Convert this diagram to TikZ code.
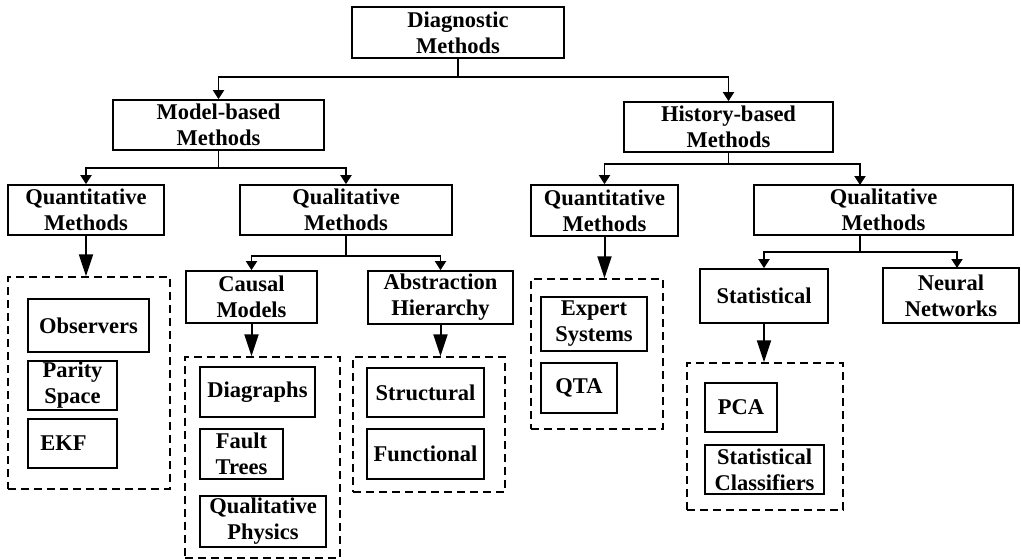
\documentclass[tikz,border=0pt]{standalone}
\usepackage{fontspec}
\setmainfont{Liberation Serif}
\usetikzlibrary{arrows.meta}
\tikzset{
  box/.style={draw, line width=1.7pt, font=\fontsize{22.5}{26}\selectfont\bfseries, align=center, inner sep=1pt},
  grp/.style={draw, line width=1.4pt, dash pattern=on 8pt off 5pt},
  tree/.style={line width=1.9pt, -{Triangle[length=9pt,width=11pt]}},
  bigarr/.style={line width=2pt, -{Triangle[length=22pt,width=14pt]}}
}
\begin{document}
\begin{tikzpicture}[x=1pt,y=-1pt]
\useasboundingbox (0,0) rectangle (1021,560);
% level 1-2
\node[box, minimum width=212pt, minimum height=51pt] (diag) at (458,32.5) {Diagnostic\\Methods};
\node[box, minimum width=211pt, minimum height=50pt] (model) at (218.5,125) {Model-based\\Methods};
\node[box, minimum width=209pt, minimum height=50pt] (hist) at (728.5,127) {History-based\\Methods};
% level 3
\node[box, minimum width=156pt, minimum height=50pt] (quantL) at (86,210) {Quantitative\\Methods};
\node[box, minimum width=212pt, minimum height=50pt] (qualL) at (346,210) {Qualitative\\Methods};
\node[box, minimum width=147pt, minimum height=51pt] (quantR) at (604.5,210.5) {Quantitative\\Methods};
\node[box, minimum width=259pt, minimum height=50pt] (qualR) at (883.5,210) {Qualitative\\Methods};
% level 4
\node[box, minimum width=131pt, minimum height=52pt] (causal) at (251.5,297) {Causal\\Models};
\node[box, minimum width=145pt, minimum height=53pt] (abst) at (440.5,297.5) {Abstraction\\Hierarchy};
\node[box, minimum width=128pt, minimum height=54pt] (stat) at (764,296) {Statistical};
\node[box, minimum width=136pt, minimum height=55pt] (neural) at (951,295.5) {Neural\\Networks};
% dashed groups
\node[grp, minimum width=162pt, minimum height=212pt] (g1) at (89,383) {};
\node[grp, minimum width=155pt, minimum height=201pt] (g2) at (262.5,457.5) {};
\node[grp, minimum width=152pt, minimum height=135pt] (g3) at (429,424.5) {};
\node[grp, minimum width=132pt, minimum height=150pt] (g4) at (597,354) {};
\node[grp, minimum width=156pt, minimum height=147pt] (g5) at (765,436.5) {};
% leaves
\node[box, minimum width=121pt, minimum height=53pt] (obs) at (88.5,325.5) {Observers};
\node[box, minimum width=89pt, minimum height=49pt] (parity) at (72.5,385.5) {Parity\\Space};
\node[box, minimum width=89pt, minimum height=49pt] (ekf) at (72.5,443.5) {EKF\hspace*{18pt}};
\node[box, minimum width=115pt, minimum height=50pt] (digr) at (257.5,392) {Diagraphs};
\node[box, minimum width=83pt, minimum height=50pt] (fault) at (241.5,454) {Fault\\Trees};
\node[box, minimum width=126pt, minimum height=51pt] (qphys) at (263,521.5) {Qualitative\\Physics};
\node[box, minimum width=117pt, minimum height=49pt] (struct) at (425.5,392.5) {Structural};
\node[box, minimum width=117pt, minimum height=50pt] (func) at (425.5,454) {Functional};
\node[box, minimum width=106pt, minimum height=54pt] (expert) at (594,324) {Expert\\Systems};
\node[box, minimum width=76pt, minimum height=50pt] (qta) at (579,388) {QTA};
\node[box, minimum width=72pt, minimum height=49pt] (pca) at (741,407.5) {PCA};
\node[box, minimum width=119pt, minimum height=49pt] (statcl) at (764.5,469.5) {Statistical\\Classifiers};
% junctions
\coordinate (j1) at (458,77);
\coordinate (j2) at (218.5,168);
\coordinate (j3) at (728.5,164);
\coordinate (j4) at (346,256);
\coordinate (j5) at (860,252);
\coordinate (qrin) at (860,185);
\coordinate (nnin) at (957,268);
% tree connectors
\draw[tree] (diag.south) -- (j1) -| (model.north);
\draw[tree] (diag.south) -- (j1) -| (hist.north);
\draw[tree] (model.south) -- (j2) -| (quantL.north);
\draw[tree] (model.south) -- (j2) -| (qualL.north);
\draw[tree] (hist.south) -- (j3) -| (quantR.north);
\draw[tree] (hist.south) -- (j3) -| (qrin);
\draw[tree] (qualL.south) -- (j4) -| (causal.north);
\draw[tree] (qualL.south) -- (j4) -| (abst.north);
\draw[tree] (qualR.south -| j5) -- (j5) -| (stat.north);
\draw[tree] (qualR.south -| j5) -- (j5) -| (nnin);
% big arrows to groups
\draw[bigarr] (quantL.south) -- (quantL.south |- g1.north);
\draw[bigarr] (causal.south) -- (causal.south |- g2.north);
\draw[bigarr] (abst.south) -- (abst.south |- g3.north);
\draw[bigarr] (quantR.south) -- (quantR.south |- g4.north);
\draw[bigarr] (stat.south) -- (stat.south |- g5.north);
\end{tikzpicture}
\end{document}
